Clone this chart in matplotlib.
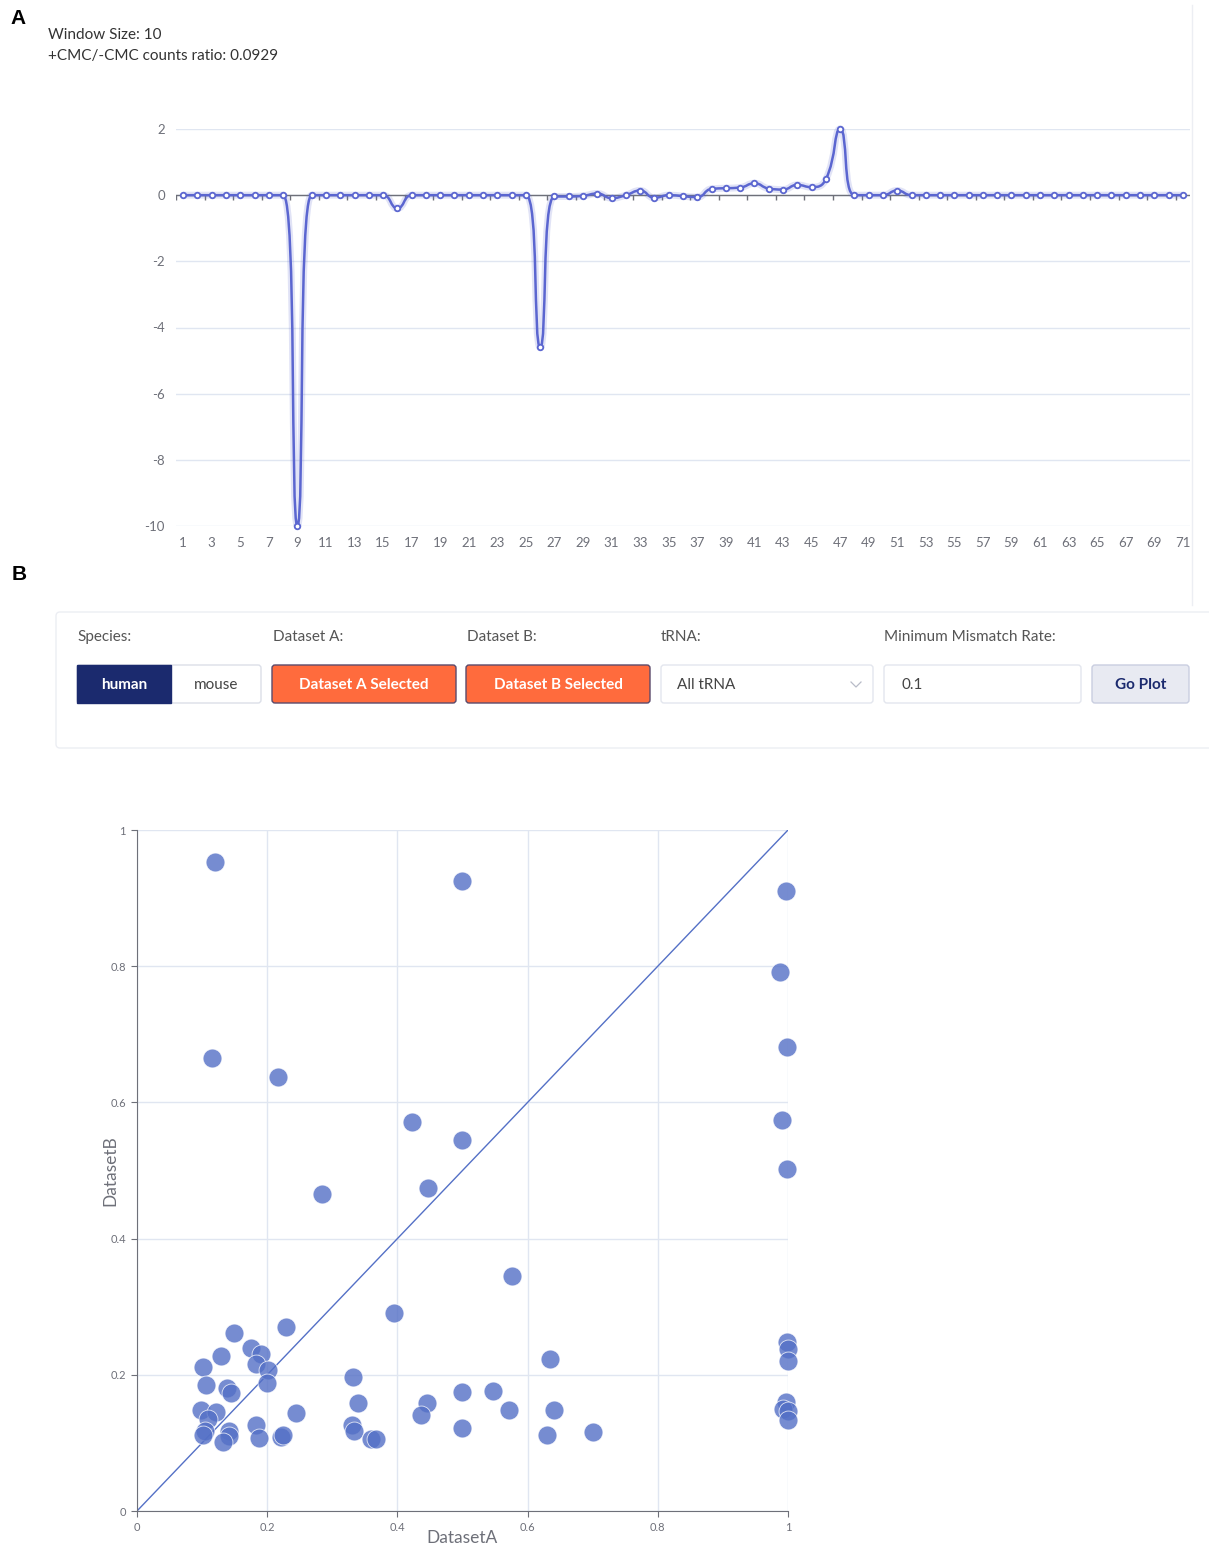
import matplotlib
matplotlib.use("Agg")
import matplotlib.pyplot as plt
import numpy as np
from matplotlib.path import Path
from matplotlib.patches import PathPatch, FancyBboxPatch, Rectangle
from matplotlib.lines import Line2D

plt.rcParams["font.family"] = ["Lato", "DejaVu Sans"]

# --- panel A data: value per position 1..71 ---
positions = list(range(1, 72))
ratio_values = [
    0, 0, 0, 0, 0, 0, 0, 0, -10, 0,
    0, 0, 0, 0, 0, -0.4, 0, 0, 0, 0,
    0, 0, 0, 0, 0, -4.6, -0.04, -0.04, -0.02, 0.05,
    -0.09, 0, 0.14, -0.08, 0, -0.03, -0.06, 0.19, 0.21, 0.23,
    0.36, 0.2, 0.17, 0.31, 0.24, 0.48, 2.0, 0, 0, 0,
    0.14, 0, 0, 0, 0, 0, 0, 0, 0, 0,
    0, 0, 0, 0, 0, 0, 0, 0, 0, 0, 0,
]
y_ticks_a = [-10, -8, -6, -4, -2, 0, 2]
header_lines = ["Window Size: 10", "+CMC/-CMC counts ratio: 0.0929"]

# --- panel B controls ---
species = ["human", "mouse"]
field_labels = ["Species:", "Dataset A:", "Dataset B:", "tRNA:", "Minimum Mismatch Rate:"]
trna_choice = "All tRNA"
min_rate = "0.1"

# --- panel B scatter data ---
dataset_a = [
    0.120, 0.499, 0.997, 0.988, 0.115, 0.998, 0.217, 0.422, 0.499, 0.991,
    0.998, 0.284, 0.447, 0.576, 0.395,
    0.229, 0.149, 0.175, 0.190, 0.129, 0.102, 0.183, 0.201, 0.106, 0.199,
    0.139, 0.145, 0.332, 0.340, 0.098, 0.121, 0.109, 0.245, 0.183, 0.104,
    0.141, 0.101, 0.142, 0.132, 0.187, 0.221, 0.224, 0.331, 0.333, 0.360,
    0.367,
    0.446, 0.436, 0.499, 0.547, 0.571, 0.499, 0.635, 0.640, 0.630, 0.701,
    0.998, 1.0, 1.0, 0.997, 0.993, 1.0, 1.0,
]
dataset_b = [
    0.953, 0.925, 0.910, 0.791, 0.665, 0.681, 0.637, 0.571, 0.545, 0.574,
    0.502, 0.465, 0.474, 0.345, 0.291,
    0.270, 0.261, 0.239, 0.230, 0.227, 0.212, 0.216, 0.207, 0.185, 0.188,
    0.180, 0.173, 0.197, 0.159, 0.148, 0.145, 0.135, 0.144, 0.126, 0.118,
    0.118, 0.111, 0.110, 0.101, 0.107, 0.109, 0.111, 0.126, 0.118, 0.106,
    0.106,
    0.159, 0.141, 0.175, 0.176, 0.148, 0.122, 0.223, 0.148, 0.111, 0.116,
    0.248, 0.238, 0.220, 0.160, 0.150, 0.147, 0.134,
]
scatter_ticks = [0, 0.2, 0.4, 0.6, 0.8, 1]
diag = [0, 1]

W, H = 1209, 1545
GRID = "#e0e6f1"
AXC = "#6e7079"
LINEC = "#5b66d0"
DOTC = "#5470c6"

fig = plt.figure(figsize=(W / 100, H / 100), dpi=100)


def rect(x0, y0, x1, y1):
    return [x0 / W, 1 - y1 / H, (x1 - x0) / W, (y1 - y0) / H]


def smooth_path(xs, ys, sx, sy, smooth=0.5):
    # echarts-style constrained bezier smoothing, computed in pixel units
    px = np.array(xs, float) * sx
    py = np.array(ys, float) * sy
    n = len(px)
    before = [(px[i], py[i]) for i in range(n)]
    after = [(px[i], py[i]) for i in range(n)]
    for i in range(1, n - 1):
        x, y = px[i], py[i]
        x0, y0 = px[i - 1], py[i - 1]
        x1, y1 = px[i + 1], py[i + 1]
        vx, vy = x1 - x0, y1 - y0
        lp = np.hypot(x - x0, y - y0)
        ln = np.hypot(x1 - x, y1 - y)
        r = ln / (ln + lp)
        cx1 = x + vx * smooth * r
        cy1 = y + vy * smooth * r
        cx1 = max(min(cx1, max(x1, x)), min(x1, x))
        cy1 = max(min(cy1, max(y1, y)), min(y1, y))
        vx, vy = cx1 - x, cy1 - y
        cx0 = x - vx * lp / ln
        cy0 = y - vy * lp / ln
        cx0 = max(min(cx0, max(x0, x)), min(x0, x))
        cy0 = max(min(cy0, max(y0, y)), min(y0, y))
        vx, vy = x - cx0, y - cy0
        cx1 = x + vx * ln / lp
        cy1 = y + vy * ln / lp
        before[i] = (cx0, cy0)
        after[i] = (cx1, cy1)
    verts = [(px[0], py[0])]
    codes = [Path.MOVETO]
    for i in range(n - 1):
        verts += [after[i], before[i + 1], (px[i + 1], py[i + 1])]
        codes += [Path.CURVE4] * 3
    verts = [(a / sx, b / sy) for a, b in verts]
    return Path(verts, codes)


# ---------------- panel A ----------------
ax1 = fig.add_axes(rect(176, 129, 1190, 526))
ax1.set_xlim(0.5, 71.5)
ax1.set_ylim(-10, 2)
for s in ax1.spines.values():
    s.set_visible(False)
ax1.set_yticks(y_ticks_a)
ax1.set_yticklabels([str(v) for v in y_ticks_a])
ax1.yaxis.grid(True, color=GRID, lw=1)
ax1.set_axisbelow(True)
ax1.set_xticks(positions[::2])
ax1.set_xticklabels([str(p) for p in positions[::2]])
ax1.tick_params(axis="both", length=0, labelcolor=AXC, labelsize=9.5)
ax1.tick_params(axis="y", pad=8)
ax1.tick_params(axis="x", pad=8)
# axis line at zero with boundary ticks
ax1.axhline(0, color=AXC, lw=1, zorder=2)
ax1.vlines(np.arange(0.5, 72, 2), -0.15, 0, color=AXC, lw=1, zorder=2)

path = smooth_path(positions, ratio_values, 14.28, 33.1)
ax1.add_patch(PathPatch(path, fill=False, edgecolor=LINEC, lw=5, alpha=0.18, zorder=3, clip_on=False))
ax1.add_patch(PathPatch(path, fill=False, edgecolor=LINEC, lw=1.8, zorder=4, clip_on=False))
ax1.plot(positions, ratio_values, "o", ms=4, mfc="white", mec=LINEC, mew=1.3, zorder=5, clip_on=False)

# ---------------- panel B scatter ----------------
ax2 = fig.add_axes(rect(137, 830, 788, 1511))
ax2.set_xlim(0, 1)
ax2.set_ylim(0, 1)
ax2.spines["top"].set_visible(False)
ax2.spines["right"].set_visible(False)
ax2.spines["left"].set_color(AXC)
ax2.spines["bottom"].set_color(AXC)
ax2.set_xticks(scatter_ticks)
ax2.set_yticks(scatter_ticks)
ax2.set_xticklabels(["0", "0.2", "0.4", "0.6", "0.8", "1"])
ax2.set_yticklabels(["0", "0.2", "0.4", "0.6", "0.8", "1"])
ax2.tick_params(length=4, color=AXC, labelcolor=AXC, labelsize=8, pad=4)
ax2.grid(True, color=GRID, lw=1)
ax2.set_axisbelow(True)
ax2.plot(diag, diag, color=DOTC, lw=1, zorder=2)
ax2.scatter(dataset_a, dataset_b, s=185, color=DOTC, alpha=0.8, edgecolors="white",
            linewidths=0.6, zorder=3, clip_on=False)
ax2.set_xlabel("DatasetA", fontsize=12.5, color=AXC, labelpad=-2)
ax2.set_ylabel("DatasetB", fontsize=12.5, color=AXC, labelpad=-6)

# ---------------- overlay: texts and controls ----------------
ov = fig.add_axes([0, 0, 1, 1], zorder=-1)
ov.set_xlim(0, W)
ov.set_ylim(H, 0)
ov.axis("off")

ov.text(10, 18, "A", fontsize=15, fontweight="bold", family="Liberation Sans", va="center", ha="left")
ov.text(12, 574, "B", fontsize=15, fontweight="bold", family="Liberation Sans", va="center", ha="left")
ov.text(48, 35, header_lines[0], fontsize=11, color="#333333", va="center")
ov.text(48, 56, header_lines[1], fontsize=11, color="#333333", va="center")

# panel frame line on the right of A
ov.add_line(Line2D([1192, 1192], [5, 605], color="#eceef3", lw=1))

# card
ov.add_patch(FancyBboxPatch((56, 612), 1170, 136, boxstyle="round,pad=0,rounding_size=4",
                            fc="white", ec="#eceef3", lw=1))

label_x = [77, 273, 467, 661, 884]
for lx, lab in zip(label_x, field_labels):
    ov.text(lx, 637, lab, fontsize=11, color="#555555", va="center", ha="left")


def button(x0, x1, text, fc, ec, tc, weight="normal", ha="center", tx=None, lw=1):
    ov.add_patch(FancyBboxPatch((x0, 665), x1 - x0, 38, boxstyle="round,pad=0,rounding_size=3",
                                fc=fc, ec=ec, lw=lw))
    ov.text(tx if tx is not None else (x0 + x1) / 2, 685, text, fontsize=11, color=tc,
            va="center", ha=ha, fontweight=weight)


ov.add_patch(FancyBboxPatch((77, 665), 184, 38, boxstyle="round,pad=0,rounding_size=3",
                            fc="white", ec="#dcdfe8", lw=1))
ov.add_patch(Rectangle((77, 665), 94, 38, fc="#1b2a6e", ec="#1b2a6e", lw=1))
ov.text(124, 685, species[0], fontsize=11, color="white", va="center", ha="center", fontweight="bold")
ov.text(216, 685, species[1], fontsize=11, color="#444444", va="center", ha="center")

button(272, 456, "Dataset A Selected", "#ff6b3d", "#5b4a6b", "white", weight="bold")
button(466, 650, "Dataset B Selected", "#ff6b3d", "#5b4a6b", "white", weight="bold")
button(661, 873, trna_choice, "white", "#e3e6ee", "#444444", ha="left", tx=677)
ov.plot([851, 856, 861], [682, 687, 682], color="#b8bcc8", lw=0.9)
button(884, 1081, min_rate, "white", "#e3e6ee", "#444444", ha="left", tx=901)
button(1092, 1189, "Go Plot", "#e8eaf2", "#c9cee0", "#1b2a6e", weight="bold")

fig.savefig("out.png", dpi=100, facecolor="white")
